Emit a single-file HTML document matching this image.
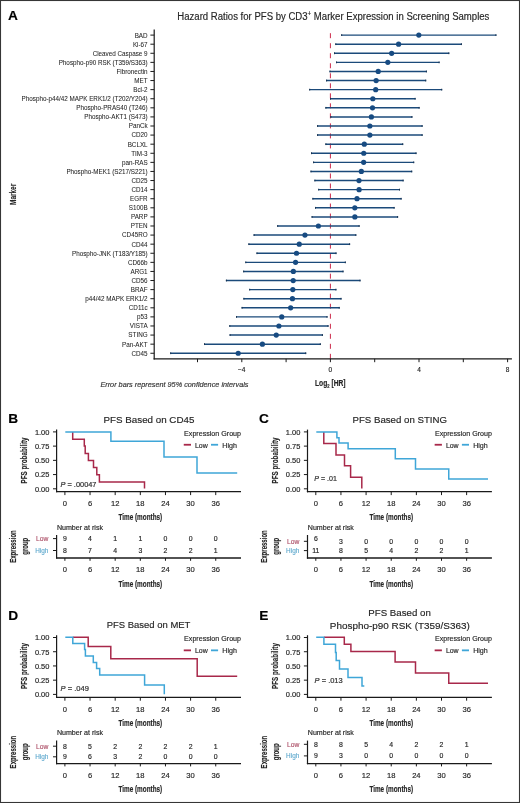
<!DOCTYPE html>
<html><head><meta charset="utf-8"><title>Figure</title>
<style>
html,body{margin:0;padding:0;background:#fff;}
body{width:520px;height:803px;overflow:hidden;}
svg{display:block;font-family:"Liberation Sans",sans-serif;will-change:transform;}
text{stroke-width:var(--sw,0.16px);stroke-linejoin:round;}
</style></head><body>
<svg width="520" height="803" viewBox="0 0 520 803">
<rect x="0" y="0" width="520" height="803" fill="#fff"/>
<text x="8" y="19.8" font-size="13.7" font-weight="bold" fill="#000" stroke="#000">A</text>
<text x="177.3" y="20.1" font-size="10" fill="#262626" stroke="#262626" textLength="312.1" lengthAdjust="spacingAndGlyphs">Hazard Ratios for PFS by CD3<tspan font-size="6.4" dy="-3.8">+</tspan><tspan dy="3.8"> Marker Expression in Screening Samples</tspan></text>
<line x1="330.4" y1="33.2" x2="330.4" y2="358.8" stroke="#cc2a4a" stroke-width="1" stroke-dasharray="5 5.02"/>
<line x1="154.2" y1="29.6" x2="154.2" y2="359.4" stroke="#1a1a1a" stroke-width="1.2"/>
<line x1="153.6" y1="358.8" x2="511.9" y2="358.8" stroke="#1a1a1a" stroke-width="1.2"/>
<text x="147.6" y="37.5" font-size="6.3" text-anchor="end" fill="#262626" stroke="#262626" style="--sw:0.05px">BAD</text>
<line x1="150.4" y1="35.1" x2="154.2" y2="35.1" stroke="#1a1a1a" stroke-width="1"/>
<line x1="341.2" y1="35.1" x2="496.4" y2="35.1" stroke="#1b4a7a" stroke-width="1.45"/>
<line x1="341.7" y1="34.2" x2="341.7" y2="36" stroke="#1a3350" stroke-width="1"/>
<line x1="495.9" y1="34.2" x2="495.9" y2="36" stroke="#1a3350" stroke-width="1"/>
<circle cx="418.8" cy="35.1" r="2.6" fill="#174b82"/>
<text x="147.6" y="46.59" font-size="6.3" text-anchor="end" fill="#262626" stroke="#262626" style="--sw:0.05px">Ki-67</text>
<line x1="150.4" y1="44.19" x2="154.2" y2="44.19" stroke="#1a1a1a" stroke-width="1"/>
<line x1="335.3" y1="44.19" x2="461.9" y2="44.19" stroke="#1b4a7a" stroke-width="1.45"/>
<line x1="335.8" y1="43.29" x2="335.8" y2="45.09" stroke="#1a3350" stroke-width="1"/>
<line x1="461.4" y1="43.29" x2="461.4" y2="45.09" stroke="#1a3350" stroke-width="1"/>
<circle cx="398.6" cy="44.19" r="2.6" fill="#174b82"/>
<text x="147.6" y="55.68" font-size="6.3" text-anchor="end" fill="#262626" stroke="#262626" style="--sw:0.05px">Cleaved Caspase 9</text>
<line x1="150.4" y1="53.28" x2="154.2" y2="53.28" stroke="#1a1a1a" stroke-width="1"/>
<line x1="334" y1="53.28" x2="449.3" y2="53.28" stroke="#1b4a7a" stroke-width="1.45"/>
<line x1="334.5" y1="52.38" x2="334.5" y2="54.18" stroke="#1a3350" stroke-width="1"/>
<line x1="448.8" y1="52.38" x2="448.8" y2="54.18" stroke="#1a3350" stroke-width="1"/>
<circle cx="391.65" cy="53.28" r="2.6" fill="#174b82"/>
<text x="147.6" y="64.77" font-size="6.3" text-anchor="end" fill="#262626" stroke="#262626" style="--sw:0.05px">Phospho-p90 RSK (T359/S363)</text>
<line x1="150.4" y1="62.37" x2="154.2" y2="62.37" stroke="#1a1a1a" stroke-width="1"/>
<line x1="336" y1="62.37" x2="439.6" y2="62.37" stroke="#1b4a7a" stroke-width="1.45"/>
<line x1="336.5" y1="61.47" x2="336.5" y2="63.27" stroke="#1a3350" stroke-width="1"/>
<line x1="439.1" y1="61.47" x2="439.1" y2="63.27" stroke="#1a3350" stroke-width="1"/>
<circle cx="387.8" cy="62.37" r="2.6" fill="#174b82"/>
<text x="147.6" y="73.86" font-size="6.3" text-anchor="end" fill="#262626" stroke="#262626" style="--sw:0.05px">Fibronectin</text>
<line x1="150.4" y1="71.46" x2="154.2" y2="71.46" stroke="#1a1a1a" stroke-width="1"/>
<line x1="329.5" y1="71.46" x2="426.9" y2="71.46" stroke="#1b4a7a" stroke-width="1.45"/>
<line x1="330" y1="70.56" x2="330" y2="72.36" stroke="#1a3350" stroke-width="1"/>
<line x1="426.4" y1="70.56" x2="426.4" y2="72.36" stroke="#1a3350" stroke-width="1"/>
<circle cx="378.2" cy="71.46" r="2.6" fill="#174b82"/>
<text x="147.6" y="82.95" font-size="6.3" text-anchor="end" fill="#262626" stroke="#262626" style="--sw:0.05px">MET</text>
<line x1="150.4" y1="80.55" x2="154.2" y2="80.55" stroke="#1a1a1a" stroke-width="1"/>
<line x1="326.1" y1="80.55" x2="426.2" y2="80.55" stroke="#1b4a7a" stroke-width="1.45"/>
<line x1="326.6" y1="79.65" x2="326.6" y2="81.45" stroke="#1a3350" stroke-width="1"/>
<line x1="425.7" y1="79.65" x2="425.7" y2="81.45" stroke="#1a3350" stroke-width="1"/>
<circle cx="376.15" cy="80.55" r="2.6" fill="#174b82"/>
<text x="147.6" y="92.04" font-size="6.3" text-anchor="end" fill="#262626" stroke="#262626" style="--sw:0.05px">Bcl-2</text>
<line x1="150.4" y1="89.64" x2="154.2" y2="89.64" stroke="#1a1a1a" stroke-width="1"/>
<line x1="309.2" y1="89.64" x2="442.2" y2="89.64" stroke="#1b4a7a" stroke-width="1.45"/>
<line x1="309.7" y1="88.74" x2="309.7" y2="90.54" stroke="#1a3350" stroke-width="1"/>
<line x1="441.7" y1="88.74" x2="441.7" y2="90.54" stroke="#1a3350" stroke-width="1"/>
<circle cx="375.7" cy="89.64" r="2.6" fill="#174b82"/>
<text x="147.6" y="101.13" font-size="6.3" text-anchor="end" fill="#262626" stroke="#262626" style="--sw:0.05px">Phospho-p44/42 MAPK ERK1/2 (T202/Y204)</text>
<line x1="150.4" y1="98.73" x2="154.2" y2="98.73" stroke="#1a1a1a" stroke-width="1"/>
<line x1="330" y1="98.73" x2="415.6" y2="98.73" stroke="#1b4a7a" stroke-width="1.45"/>
<line x1="330.5" y1="97.83" x2="330.5" y2="99.63" stroke="#1a3350" stroke-width="1"/>
<line x1="415.1" y1="97.83" x2="415.1" y2="99.63" stroke="#1a3350" stroke-width="1"/>
<circle cx="372.8" cy="98.73" r="2.6" fill="#174b82"/>
<text x="147.6" y="110.22" font-size="6.3" text-anchor="end" fill="#262626" stroke="#262626" style="--sw:0.05px">Phospho-PRAS40 (T246)</text>
<line x1="150.4" y1="107.82" x2="154.2" y2="107.82" stroke="#1a1a1a" stroke-width="1"/>
<line x1="325.4" y1="107.82" x2="419.6" y2="107.82" stroke="#1b4a7a" stroke-width="1.45"/>
<line x1="325.9" y1="106.92" x2="325.9" y2="108.72" stroke="#1a3350" stroke-width="1"/>
<line x1="419.1" y1="106.92" x2="419.1" y2="108.72" stroke="#1a3350" stroke-width="1"/>
<circle cx="372.5" cy="107.82" r="2.6" fill="#174b82"/>
<text x="147.6" y="119.31" font-size="6.3" text-anchor="end" fill="#262626" stroke="#262626" style="--sw:0.05px">Phospho-AKT1 (S473)</text>
<line x1="150.4" y1="116.91" x2="154.2" y2="116.91" stroke="#1a1a1a" stroke-width="1"/>
<line x1="330.4" y1="116.91" x2="412.4" y2="116.91" stroke="#1b4a7a" stroke-width="1.45"/>
<line x1="330.9" y1="116.01" x2="330.9" y2="117.81" stroke="#1a3350" stroke-width="1"/>
<line x1="411.9" y1="116.01" x2="411.9" y2="117.81" stroke="#1a3350" stroke-width="1"/>
<circle cx="371.4" cy="116.91" r="2.6" fill="#174b82"/>
<text x="147.6" y="128.4" font-size="6.3" text-anchor="end" fill="#262626" stroke="#262626" style="--sw:0.05px">PanCk</text>
<line x1="150.4" y1="126" x2="154.2" y2="126" stroke="#1a1a1a" stroke-width="1"/>
<line x1="317.1" y1="126" x2="422.6" y2="126" stroke="#1b4a7a" stroke-width="1.45"/>
<line x1="317.6" y1="125.1" x2="317.6" y2="126.9" stroke="#1a3350" stroke-width="1"/>
<line x1="422.1" y1="125.1" x2="422.1" y2="126.9" stroke="#1a3350" stroke-width="1"/>
<circle cx="369.85" cy="126" r="2.6" fill="#174b82"/>
<text x="147.6" y="137.49" font-size="6.3" text-anchor="end" fill="#262626" stroke="#262626" style="--sw:0.05px">CD20</text>
<line x1="150.4" y1="135.09" x2="154.2" y2="135.09" stroke="#1a1a1a" stroke-width="1"/>
<line x1="317.1" y1="135.09" x2="422.6" y2="135.09" stroke="#1b4a7a" stroke-width="1.45"/>
<line x1="317.6" y1="134.19" x2="317.6" y2="135.99" stroke="#1a3350" stroke-width="1"/>
<line x1="422.1" y1="134.19" x2="422.1" y2="135.99" stroke="#1a3350" stroke-width="1"/>
<circle cx="369.85" cy="135.09" r="2.6" fill="#174b82"/>
<text x="147.6" y="146.58" font-size="6.3" text-anchor="end" fill="#262626" stroke="#262626" style="--sw:0.05px">BCLXL</text>
<line x1="150.4" y1="144.18" x2="154.2" y2="144.18" stroke="#1a1a1a" stroke-width="1"/>
<line x1="325.4" y1="144.18" x2="403.2" y2="144.18" stroke="#1b4a7a" stroke-width="1.45"/>
<line x1="325.9" y1="143.28" x2="325.9" y2="145.08" stroke="#1a3350" stroke-width="1"/>
<line x1="402.7" y1="143.28" x2="402.7" y2="145.08" stroke="#1a3350" stroke-width="1"/>
<circle cx="364.3" cy="144.18" r="2.6" fill="#174b82"/>
<text x="147.6" y="155.67" font-size="6.3" text-anchor="end" fill="#262626" stroke="#262626" style="--sw:0.05px">TIM-3</text>
<line x1="150.4" y1="153.27" x2="154.2" y2="153.27" stroke="#1a1a1a" stroke-width="1"/>
<line x1="311" y1="153.27" x2="416.5" y2="153.27" stroke="#1b4a7a" stroke-width="1.45"/>
<line x1="311.5" y1="152.37" x2="311.5" y2="154.17" stroke="#1a3350" stroke-width="1"/>
<line x1="416" y1="152.37" x2="416" y2="154.17" stroke="#1a3350" stroke-width="1"/>
<circle cx="363.75" cy="153.27" r="2.6" fill="#174b82"/>
<text x="147.6" y="164.76" font-size="6.3" text-anchor="end" fill="#262626" stroke="#262626" style="--sw:0.05px">pan-RAS</text>
<line x1="150.4" y1="162.36" x2="154.2" y2="162.36" stroke="#1a1a1a" stroke-width="1"/>
<line x1="313.1" y1="162.36" x2="414.2" y2="162.36" stroke="#1b4a7a" stroke-width="1.45"/>
<line x1="313.6" y1="161.46" x2="313.6" y2="163.26" stroke="#1a3350" stroke-width="1"/>
<line x1="413.7" y1="161.46" x2="413.7" y2="163.26" stroke="#1a3350" stroke-width="1"/>
<circle cx="363.65" cy="162.36" r="2.6" fill="#174b82"/>
<text x="147.6" y="173.85" font-size="6.3" text-anchor="end" fill="#262626" stroke="#262626" style="--sw:0.05px">Phospho-MEK1 (S217/S221)</text>
<line x1="150.4" y1="171.45" x2="154.2" y2="171.45" stroke="#1a1a1a" stroke-width="1"/>
<line x1="310.5" y1="171.45" x2="412.2" y2="171.45" stroke="#1b4a7a" stroke-width="1.45"/>
<line x1="311" y1="170.55" x2="311" y2="172.35" stroke="#1a3350" stroke-width="1"/>
<line x1="411.7" y1="170.55" x2="411.7" y2="172.35" stroke="#1a3350" stroke-width="1"/>
<circle cx="361.35" cy="171.45" r="2.6" fill="#174b82"/>
<text x="147.6" y="182.94" font-size="6.3" text-anchor="end" fill="#262626" stroke="#262626" style="--sw:0.05px">CD25</text>
<line x1="150.4" y1="180.54" x2="154.2" y2="180.54" stroke="#1a1a1a" stroke-width="1"/>
<line x1="314.4" y1="180.54" x2="403.6" y2="180.54" stroke="#1b4a7a" stroke-width="1.45"/>
<line x1="314.9" y1="179.64" x2="314.9" y2="181.44" stroke="#1a3350" stroke-width="1"/>
<line x1="403.1" y1="179.64" x2="403.1" y2="181.44" stroke="#1a3350" stroke-width="1"/>
<circle cx="359" cy="180.54" r="2.6" fill="#174b82"/>
<text x="147.6" y="192.03" font-size="6.3" text-anchor="end" fill="#262626" stroke="#262626" style="--sw:0.05px">CD14</text>
<line x1="150.4" y1="189.63" x2="154.2" y2="189.63" stroke="#1a1a1a" stroke-width="1"/>
<line x1="318.2" y1="189.63" x2="400" y2="189.63" stroke="#1b4a7a" stroke-width="1.45"/>
<line x1="318.7" y1="188.73" x2="318.7" y2="190.53" stroke="#1a3350" stroke-width="1"/>
<line x1="399.5" y1="188.73" x2="399.5" y2="190.53" stroke="#1a3350" stroke-width="1"/>
<circle cx="359.1" cy="189.63" r="2.6" fill="#174b82"/>
<text x="147.6" y="201.12" font-size="6.3" text-anchor="end" fill="#262626" stroke="#262626" style="--sw:0.05px">EGFR</text>
<line x1="150.4" y1="198.72" x2="154.2" y2="198.72" stroke="#1a1a1a" stroke-width="1"/>
<line x1="312.4" y1="198.72" x2="401.6" y2="198.72" stroke="#1b4a7a" stroke-width="1.45"/>
<line x1="312.9" y1="197.82" x2="312.9" y2="199.62" stroke="#1a3350" stroke-width="1"/>
<line x1="401.1" y1="197.82" x2="401.1" y2="199.62" stroke="#1a3350" stroke-width="1"/>
<circle cx="357" cy="198.72" r="2.6" fill="#174b82"/>
<text x="147.6" y="210.21" font-size="6.3" text-anchor="end" fill="#262626" stroke="#262626" style="--sw:0.05px">S100B</text>
<line x1="150.4" y1="207.81" x2="154.2" y2="207.81" stroke="#1a1a1a" stroke-width="1"/>
<line x1="315" y1="207.81" x2="394.6" y2="207.81" stroke="#1b4a7a" stroke-width="1.45"/>
<line x1="315.5" y1="206.91" x2="315.5" y2="208.71" stroke="#1a3350" stroke-width="1"/>
<line x1="394.1" y1="206.91" x2="394.1" y2="208.71" stroke="#1a3350" stroke-width="1"/>
<circle cx="354.8" cy="207.81" r="2.6" fill="#174b82"/>
<text x="147.6" y="219.3" font-size="6.3" text-anchor="end" fill="#262626" stroke="#262626" style="--sw:0.05px">PARP</text>
<line x1="150.4" y1="216.9" x2="154.2" y2="216.9" stroke="#1a1a1a" stroke-width="1"/>
<line x1="311.6" y1="216.9" x2="398.1" y2="216.9" stroke="#1b4a7a" stroke-width="1.45"/>
<line x1="312.1" y1="216" x2="312.1" y2="217.8" stroke="#1a3350" stroke-width="1"/>
<line x1="397.6" y1="216" x2="397.6" y2="217.8" stroke="#1a3350" stroke-width="1"/>
<circle cx="354.85" cy="216.9" r="2.6" fill="#174b82"/>
<text x="147.6" y="228.39" font-size="6.3" text-anchor="end" fill="#262626" stroke="#262626" style="--sw:0.05px">PTEN</text>
<line x1="150.4" y1="225.99" x2="154.2" y2="225.99" stroke="#1a1a1a" stroke-width="1"/>
<line x1="277.2" y1="225.99" x2="359.6" y2="225.99" stroke="#1b4a7a" stroke-width="1.45"/>
<line x1="277.7" y1="225.09" x2="277.7" y2="226.89" stroke="#1a3350" stroke-width="1"/>
<line x1="359.1" y1="225.09" x2="359.1" y2="226.89" stroke="#1a3350" stroke-width="1"/>
<circle cx="318.4" cy="225.99" r="2.6" fill="#174b82"/>
<text x="147.6" y="237.48" font-size="6.3" text-anchor="end" fill="#262626" stroke="#262626" style="--sw:0.05px">CD45RO</text>
<line x1="150.4" y1="235.08" x2="154.2" y2="235.08" stroke="#1a1a1a" stroke-width="1"/>
<line x1="253.6" y1="235.08" x2="356.3" y2="235.08" stroke="#1b4a7a" stroke-width="1.45"/>
<line x1="254.1" y1="234.18" x2="254.1" y2="235.98" stroke="#1a3350" stroke-width="1"/>
<line x1="355.8" y1="234.18" x2="355.8" y2="235.98" stroke="#1a3350" stroke-width="1"/>
<circle cx="304.95" cy="235.08" r="2.6" fill="#174b82"/>
<text x="147.6" y="246.57" font-size="6.3" text-anchor="end" fill="#262626" stroke="#262626" style="--sw:0.05px">CD44</text>
<line x1="150.4" y1="244.17" x2="154.2" y2="244.17" stroke="#1a1a1a" stroke-width="1"/>
<line x1="248.4" y1="244.17" x2="350.1" y2="244.17" stroke="#1b4a7a" stroke-width="1.45"/>
<line x1="248.9" y1="243.27" x2="248.9" y2="245.07" stroke="#1a3350" stroke-width="1"/>
<line x1="349.6" y1="243.27" x2="349.6" y2="245.07" stroke="#1a3350" stroke-width="1"/>
<circle cx="299.25" cy="244.17" r="2.6" fill="#174b82"/>
<text x="147.6" y="255.66" font-size="6.3" text-anchor="end" fill="#262626" stroke="#262626" style="--sw:0.05px">Phospho-JNK (T183/Y185)</text>
<line x1="150.4" y1="253.26" x2="154.2" y2="253.26" stroke="#1a1a1a" stroke-width="1"/>
<line x1="256.5" y1="253.26" x2="336.5" y2="253.26" stroke="#1b4a7a" stroke-width="1.45"/>
<line x1="257" y1="252.36" x2="257" y2="254.16" stroke="#1a3350" stroke-width="1"/>
<line x1="336" y1="252.36" x2="336" y2="254.16" stroke="#1a3350" stroke-width="1"/>
<circle cx="296.5" cy="253.26" r="2.6" fill="#174b82"/>
<text x="147.6" y="264.75" font-size="6.3" text-anchor="end" fill="#262626" stroke="#262626" style="--sw:0.05px">CD66b</text>
<line x1="150.4" y1="262.35" x2="154.2" y2="262.35" stroke="#1a1a1a" stroke-width="1"/>
<line x1="245.3" y1="262.35" x2="345.8" y2="262.35" stroke="#1b4a7a" stroke-width="1.45"/>
<line x1="245.8" y1="261.45" x2="245.8" y2="263.25" stroke="#1a3350" stroke-width="1"/>
<line x1="345.3" y1="261.45" x2="345.3" y2="263.25" stroke="#1a3350" stroke-width="1"/>
<circle cx="295.55" cy="262.35" r="2.6" fill="#174b82"/>
<text x="147.6" y="273.84" font-size="6.3" text-anchor="end" fill="#262626" stroke="#262626" style="--sw:0.05px">ARG1</text>
<line x1="150.4" y1="271.44" x2="154.2" y2="271.44" stroke="#1a1a1a" stroke-width="1"/>
<line x1="243.2" y1="271.44" x2="343.5" y2="271.44" stroke="#1b4a7a" stroke-width="1.45"/>
<line x1="243.7" y1="270.54" x2="243.7" y2="272.34" stroke="#1a3350" stroke-width="1"/>
<line x1="343" y1="270.54" x2="343" y2="272.34" stroke="#1a3350" stroke-width="1"/>
<circle cx="293.35" cy="271.44" r="2.6" fill="#174b82"/>
<text x="147.6" y="282.93" font-size="6.3" text-anchor="end" fill="#262626" stroke="#262626" style="--sw:0.05px">CD56</text>
<line x1="150.4" y1="280.53" x2="154.2" y2="280.53" stroke="#1a1a1a" stroke-width="1"/>
<line x1="225.9" y1="280.53" x2="360.5" y2="280.53" stroke="#1b4a7a" stroke-width="1.45"/>
<line x1="226.4" y1="279.63" x2="226.4" y2="281.43" stroke="#1a3350" stroke-width="1"/>
<line x1="360" y1="279.63" x2="360" y2="281.43" stroke="#1a3350" stroke-width="1"/>
<circle cx="293.2" cy="280.53" r="2.6" fill="#174b82"/>
<text x="147.6" y="292.02" font-size="6.3" text-anchor="end" fill="#262626" stroke="#262626" style="--sw:0.05px">BRAF</text>
<line x1="150.4" y1="289.62" x2="154.2" y2="289.62" stroke="#1a1a1a" stroke-width="1"/>
<line x1="249.2" y1="289.62" x2="336.4" y2="289.62" stroke="#1b4a7a" stroke-width="1.45"/>
<line x1="249.7" y1="288.72" x2="249.7" y2="290.52" stroke="#1a3350" stroke-width="1"/>
<line x1="335.9" y1="288.72" x2="335.9" y2="290.52" stroke="#1a3350" stroke-width="1"/>
<circle cx="292.8" cy="289.62" r="2.6" fill="#174b82"/>
<text x="147.6" y="301.11" font-size="6.3" text-anchor="end" fill="#262626" stroke="#262626" style="--sw:0.05px">p44/42 MAPK ERK1/2</text>
<line x1="150.4" y1="298.71" x2="154.2" y2="298.71" stroke="#1a1a1a" stroke-width="1"/>
<line x1="243.4" y1="298.71" x2="341.5" y2="298.71" stroke="#1b4a7a" stroke-width="1.45"/>
<line x1="243.9" y1="297.81" x2="243.9" y2="299.61" stroke="#1a3350" stroke-width="1"/>
<line x1="341" y1="297.81" x2="341" y2="299.61" stroke="#1a3350" stroke-width="1"/>
<circle cx="292.45" cy="298.71" r="2.6" fill="#174b82"/>
<text x="147.6" y="310.2" font-size="6.3" text-anchor="end" fill="#262626" stroke="#262626" style="--sw:0.05px">CD11c</text>
<line x1="150.4" y1="307.8" x2="154.2" y2="307.8" stroke="#1a1a1a" stroke-width="1"/>
<line x1="241.6" y1="307.8" x2="339.7" y2="307.8" stroke="#1b4a7a" stroke-width="1.45"/>
<line x1="242.1" y1="306.9" x2="242.1" y2="308.7" stroke="#1a3350" stroke-width="1"/>
<line x1="339.2" y1="306.9" x2="339.2" y2="308.7" stroke="#1a3350" stroke-width="1"/>
<circle cx="290.65" cy="307.8" r="2.6" fill="#174b82"/>
<text x="147.6" y="319.29" font-size="6.3" text-anchor="end" fill="#262626" stroke="#262626" style="--sw:0.05px">p53</text>
<line x1="150.4" y1="316.89" x2="154.2" y2="316.89" stroke="#1a1a1a" stroke-width="1"/>
<line x1="236" y1="316.89" x2="327.5" y2="316.89" stroke="#1b4a7a" stroke-width="1.45"/>
<line x1="236.5" y1="315.99" x2="236.5" y2="317.79" stroke="#1a3350" stroke-width="1"/>
<line x1="327" y1="315.99" x2="327" y2="317.79" stroke="#1a3350" stroke-width="1"/>
<circle cx="281.75" cy="316.89" r="2.6" fill="#174b82"/>
<text x="147.6" y="328.38" font-size="6.3" text-anchor="end" fill="#262626" stroke="#262626" style="--sw:0.05px">VISTA</text>
<line x1="150.4" y1="325.98" x2="154.2" y2="325.98" stroke="#1a1a1a" stroke-width="1"/>
<line x1="229.3" y1="325.98" x2="328.5" y2="325.98" stroke="#1b4a7a" stroke-width="1.45"/>
<line x1="229.8" y1="325.08" x2="229.8" y2="326.88" stroke="#1a3350" stroke-width="1"/>
<line x1="328" y1="325.08" x2="328" y2="326.88" stroke="#1a3350" stroke-width="1"/>
<circle cx="278.9" cy="325.98" r="2.6" fill="#174b82"/>
<text x="147.6" y="337.47" font-size="6.3" text-anchor="end" fill="#262626" stroke="#262626" style="--sw:0.05px">STING</text>
<line x1="150.4" y1="335.07" x2="154.2" y2="335.07" stroke="#1a1a1a" stroke-width="1"/>
<line x1="229.6" y1="335.07" x2="322.9" y2="335.07" stroke="#1b4a7a" stroke-width="1.45"/>
<line x1="230.1" y1="334.17" x2="230.1" y2="335.97" stroke="#1a3350" stroke-width="1"/>
<line x1="322.4" y1="334.17" x2="322.4" y2="335.97" stroke="#1a3350" stroke-width="1"/>
<circle cx="276.25" cy="335.07" r="2.6" fill="#174b82"/>
<text x="147.6" y="346.56" font-size="6.3" text-anchor="end" fill="#262626" stroke="#262626" style="--sw:0.05px">Pan-AKT</text>
<line x1="150.4" y1="344.16" x2="154.2" y2="344.16" stroke="#1a1a1a" stroke-width="1"/>
<line x1="204" y1="344.16" x2="320.8" y2="344.16" stroke="#1b4a7a" stroke-width="1.45"/>
<line x1="204.5" y1="343.26" x2="204.5" y2="345.06" stroke="#1a3350" stroke-width="1"/>
<line x1="320.3" y1="343.26" x2="320.3" y2="345.06" stroke="#1a3350" stroke-width="1"/>
<circle cx="262.4" cy="344.16" r="2.6" fill="#174b82"/>
<text x="147.6" y="355.65" font-size="6.3" text-anchor="end" fill="#262626" stroke="#262626" style="--sw:0.05px">CD45</text>
<line x1="150.4" y1="353.25" x2="154.2" y2="353.25" stroke="#1a1a1a" stroke-width="1"/>
<line x1="170.2" y1="353.25" x2="306.2" y2="353.25" stroke="#1b4a7a" stroke-width="1.45"/>
<line x1="170.7" y1="352.35" x2="170.7" y2="354.15" stroke="#1a3350" stroke-width="1"/>
<line x1="305.7" y1="352.35" x2="305.7" y2="354.15" stroke="#1a3350" stroke-width="1"/>
<circle cx="238.2" cy="353.25" r="2.6" fill="#174b82"/>
<line x1="197.5" y1="358.8" x2="197.5" y2="362.2" stroke="#1a1a1a" stroke-width="1"/>
<line x1="241.8" y1="358.8" x2="241.8" y2="362.2" stroke="#1a1a1a" stroke-width="1"/>
<line x1="286.1" y1="358.8" x2="286.1" y2="362.2" stroke="#1a1a1a" stroke-width="1"/>
<line x1="330.4" y1="358.8" x2="330.4" y2="362.2" stroke="#1a1a1a" stroke-width="1"/>
<line x1="374.7" y1="358.8" x2="374.7" y2="362.2" stroke="#1a1a1a" stroke-width="1"/>
<line x1="419" y1="358.8" x2="419" y2="362.2" stroke="#1a1a1a" stroke-width="1"/>
<line x1="463.3" y1="358.8" x2="463.3" y2="362.2" stroke="#1a1a1a" stroke-width="1"/>
<line x1="507.6" y1="358.8" x2="507.6" y2="362.2" stroke="#1a1a1a" stroke-width="1"/>
<text x="241.8" y="372.3" font-size="6.5" text-anchor="middle" fill="#262626" stroke="#262626">&#8722;4</text>
<text x="330.4" y="372.3" font-size="6.5" text-anchor="middle" fill="#262626" stroke="#262626">0</text>
<text x="419" y="372.3" font-size="6.5" text-anchor="middle" fill="#262626" stroke="#262626">4</text>
<text x="507.6" y="372.3" font-size="6.5" text-anchor="middle" fill="#262626" stroke="#262626">8</text>
<text x="315" y="386.1" font-size="9.2" font-weight="bold" fill="#262626" stroke="#262626" textLength="30.6" lengthAdjust="spacingAndGlyphs">Log<tspan font-size="5.6" dy="1.6">2</tspan><tspan dy="-1.6"> [HR]</tspan></text>
<text x="100.4" y="386.5" font-size="7.7" font-style="italic" fill="#333" stroke="#333" textLength="148.1" lengthAdjust="spacingAndGlyphs">Error bars represent 95% confidence intervals</text>
<text transform="translate(15.9,194.35) rotate(-90)" x="0" y="0" font-size="9.7" text-anchor="middle" font-weight="bold" fill="#262626" stroke="#262626" textLength="21.1" lengthAdjust="spacingAndGlyphs">Marker</text>
<text x="8.3" y="422.8" font-size="13.7" font-weight="bold" fill="#000" stroke="#000">B</text>
<text x="103.5" y="423.1" font-size="9.6" fill="#262626" stroke="#262626" textLength="90.9" lengthAdjust="spacingAndGlyphs">PFS Based on CD45</text>
<line x1="56.6" y1="429.6" x2="56.6" y2="492.3" stroke="#1a1a1a" stroke-width="1.2"/>
<line x1="56" y1="491.7" x2="241" y2="491.7" stroke="#1a1a1a" stroke-width="1.3"/>
<line x1="53" y1="431.9" x2="56.6" y2="431.9" stroke="#1a1a1a" stroke-width="1"/>
<text x="49.4" y="434.7" font-size="7" text-anchor="end" fill="#262626" stroke="#262626" textLength="14.5" lengthAdjust="spacingAndGlyphs">1.00</text>
<line x1="53" y1="446.12" x2="56.6" y2="446.12" stroke="#1a1a1a" stroke-width="1"/>
<text x="49.4" y="448.93" font-size="7" text-anchor="end" fill="#262626" stroke="#262626" textLength="14.5" lengthAdjust="spacingAndGlyphs">0.75</text>
<line x1="53" y1="460.35" x2="56.6" y2="460.35" stroke="#1a1a1a" stroke-width="1"/>
<text x="49.4" y="463.15" font-size="7" text-anchor="end" fill="#262626" stroke="#262626" textLength="14.5" lengthAdjust="spacingAndGlyphs">0.50</text>
<line x1="53" y1="474.57" x2="56.6" y2="474.57" stroke="#1a1a1a" stroke-width="1"/>
<text x="49.4" y="477.38" font-size="7" text-anchor="end" fill="#262626" stroke="#262626" textLength="14.5" lengthAdjust="spacingAndGlyphs">0.25</text>
<line x1="53" y1="488.8" x2="56.6" y2="488.8" stroke="#1a1a1a" stroke-width="1"/>
<text x="49.4" y="491.6" font-size="7" text-anchor="end" fill="#262626" stroke="#262626" textLength="14.5" lengthAdjust="spacingAndGlyphs">0.00</text>
<line x1="64.9" y1="491.7" x2="64.9" y2="495.1" stroke="#1a1a1a" stroke-width="1"/>
<text x="64.9" y="505.9" font-size="7.6" text-anchor="middle" fill="#262626" stroke="#262626">0</text>
<line x1="90.04" y1="491.7" x2="90.04" y2="495.1" stroke="#1a1a1a" stroke-width="1"/>
<text x="90.04" y="505.9" font-size="7.6" text-anchor="middle" fill="#262626" stroke="#262626">6</text>
<line x1="115.18" y1="491.7" x2="115.18" y2="495.1" stroke="#1a1a1a" stroke-width="1"/>
<text x="115.18" y="505.9" font-size="7.6" text-anchor="middle" fill="#262626" stroke="#262626">12</text>
<line x1="140.32" y1="491.7" x2="140.32" y2="495.1" stroke="#1a1a1a" stroke-width="1"/>
<text x="140.32" y="505.9" font-size="7.6" text-anchor="middle" fill="#262626" stroke="#262626">18</text>
<line x1="165.46" y1="491.7" x2="165.46" y2="495.1" stroke="#1a1a1a" stroke-width="1"/>
<text x="165.46" y="505.9" font-size="7.6" text-anchor="middle" fill="#262626" stroke="#262626">24</text>
<line x1="190.6" y1="491.7" x2="190.6" y2="495.1" stroke="#1a1a1a" stroke-width="1"/>
<text x="190.6" y="505.9" font-size="7.6" text-anchor="middle" fill="#262626" stroke="#262626">30</text>
<line x1="215.74" y1="491.7" x2="215.74" y2="495.1" stroke="#1a1a1a" stroke-width="1"/>
<text x="215.74" y="505.9" font-size="7.6" text-anchor="middle" fill="#262626" stroke="#262626">36</text>
<text x="118.5" y="520.3" font-size="9.6" font-weight="bold" fill="#262626" stroke="#262626" textLength="43.7" lengthAdjust="spacingAndGlyphs">Time (months)</text>
<text transform="translate(27.3,460.45) rotate(-90)" x="0" y="0" font-size="8.7" text-anchor="middle" font-weight="bold" fill="#262626" stroke="#262626" textLength="45.9" lengthAdjust="spacingAndGlyphs">PFS probability</text>
<path d="M72.7,431.9 V439.2 H84.3 V446 H85.2 V453.4 H88.4 V460.6 H93.5 V467.6 H96.8 V474.8 H99.4 V482 H144.5 V488.6" fill="none" stroke="#a8284a" stroke-width="1.5" stroke-linejoin="miter" stroke-linecap="butt"/>
<path d="M65.3,431.9 H110.9 V441.3 H164 V457.1 H197 V473.1 H237.2" fill="none" stroke="#3fa6d8" stroke-width="1.5" stroke-linejoin="miter" stroke-linecap="butt"/>
<text x="60.5" y="486.5" font-size="7.8" fill="#333" stroke="#333" style="--sw:0.22px" textLength="36" lengthAdjust="spacingAndGlyphs"><tspan font-style="italic">P</tspan> = .00047</text>
<text x="184.1" y="435.6" font-size="7.3" fill="#262626" stroke="#262626" textLength="56.9" lengthAdjust="spacingAndGlyphs">Expression Group</text>
<line x1="183.75" y1="444.75" x2="191" y2="444.75" stroke="#a8284a" stroke-width="1.8"/>
<text x="195" y="447.5" font-size="7.3" fill="#262626" stroke="#262626" textLength="12.75" lengthAdjust="spacingAndGlyphs">Low</text>
<line x1="211" y1="444.75" x2="218.1" y2="444.75" stroke="#3fa6d8" stroke-width="1.8"/>
<text x="222.25" y="447.5" font-size="7.3" fill="#262626" stroke="#262626" textLength="14.65" lengthAdjust="spacingAndGlyphs">High</text>
<text x="56.9" y="529.8" font-size="6.7" fill="#262626" stroke="#262626" textLength="46.1" lengthAdjust="spacingAndGlyphs">Number at risk</text>
<line x1="56.6" y1="535" x2="56.6" y2="558.6" stroke="#1a1a1a" stroke-width="1.2"/>
<line x1="56" y1="558" x2="241" y2="558" stroke="#1a1a1a" stroke-width="1.3"/>
<line x1="53" y1="538.6" x2="56.6" y2="538.6" stroke="#1a1a1a" stroke-width="1"/>
<line x1="53" y1="550.5" x2="56.6" y2="550.5" stroke="#1a1a1a" stroke-width="1"/>
<text x="48.4" y="540.95" font-size="6.8" text-anchor="end" fill="#a8465f" stroke="#a8465f" textLength="12.4" lengthAdjust="spacingAndGlyphs" style="--sw:0.1px">Low</text>
<text x="48.4" y="552.65" font-size="6.8" text-anchor="end" fill="#5aa6cc" stroke="#5aa6cc" textLength="13.2" lengthAdjust="spacingAndGlyphs" style="--sw:0.1px">High</text>
<text x="64.9" y="541" font-size="6.9" text-anchor="middle" fill="#262626" stroke="#262626">9</text>
<text x="64.9" y="552.9" font-size="6.9" text-anchor="middle" fill="#262626" stroke="#262626">8</text>
<text x="90.04" y="541" font-size="6.9" text-anchor="middle" fill="#262626" stroke="#262626">4</text>
<text x="90.04" y="552.9" font-size="6.9" text-anchor="middle" fill="#262626" stroke="#262626">7</text>
<text x="115.18" y="541" font-size="6.9" text-anchor="middle" fill="#262626" stroke="#262626">1</text>
<text x="115.18" y="552.9" font-size="6.9" text-anchor="middle" fill="#262626" stroke="#262626">4</text>
<text x="140.32" y="541" font-size="6.9" text-anchor="middle" fill="#262626" stroke="#262626">1</text>
<text x="140.32" y="552.9" font-size="6.9" text-anchor="middle" fill="#262626" stroke="#262626">3</text>
<text x="165.46" y="541" font-size="6.9" text-anchor="middle" fill="#262626" stroke="#262626">0</text>
<text x="165.46" y="552.9" font-size="6.9" text-anchor="middle" fill="#262626" stroke="#262626">2</text>
<text x="190.6" y="541" font-size="6.9" text-anchor="middle" fill="#262626" stroke="#262626">0</text>
<text x="190.6" y="552.9" font-size="6.9" text-anchor="middle" fill="#262626" stroke="#262626">2</text>
<text x="215.74" y="541" font-size="6.9" text-anchor="middle" fill="#262626" stroke="#262626">0</text>
<text x="215.74" y="552.9" font-size="6.9" text-anchor="middle" fill="#262626" stroke="#262626">1</text>
<line x1="64.9" y1="558" x2="64.9" y2="560.8" stroke="#1a1a1a" stroke-width="1"/>
<text x="64.9" y="572.1" font-size="7.6" text-anchor="middle" fill="#262626" stroke="#262626">0</text>
<line x1="90.04" y1="558" x2="90.04" y2="560.8" stroke="#1a1a1a" stroke-width="1"/>
<text x="90.04" y="572.1" font-size="7.6" text-anchor="middle" fill="#262626" stroke="#262626">6</text>
<line x1="115.18" y1="558" x2="115.18" y2="560.8" stroke="#1a1a1a" stroke-width="1"/>
<text x="115.18" y="572.1" font-size="7.6" text-anchor="middle" fill="#262626" stroke="#262626">12</text>
<line x1="140.32" y1="558" x2="140.32" y2="560.8" stroke="#1a1a1a" stroke-width="1"/>
<text x="140.32" y="572.1" font-size="7.6" text-anchor="middle" fill="#262626" stroke="#262626">18</text>
<line x1="165.46" y1="558" x2="165.46" y2="560.8" stroke="#1a1a1a" stroke-width="1"/>
<text x="165.46" y="572.1" font-size="7.6" text-anchor="middle" fill="#262626" stroke="#262626">24</text>
<line x1="190.6" y1="558" x2="190.6" y2="560.8" stroke="#1a1a1a" stroke-width="1"/>
<text x="190.6" y="572.1" font-size="7.6" text-anchor="middle" fill="#262626" stroke="#262626">30</text>
<line x1="215.74" y1="558" x2="215.74" y2="560.8" stroke="#1a1a1a" stroke-width="1"/>
<text x="215.74" y="572.1" font-size="7.6" text-anchor="middle" fill="#262626" stroke="#262626">36</text>
<text x="118.5" y="586.7" font-size="9.6" font-weight="bold" fill="#262626" stroke="#262626" textLength="43.7" lengthAdjust="spacingAndGlyphs">Time (months)</text>
<text transform="translate(16.1,546.5) rotate(-90)" x="0" y="0" font-size="9.6" text-anchor="middle" font-weight="bold" fill="#262626" stroke="#262626" textLength="32.6" lengthAdjust="spacingAndGlyphs">Expression</text>
<text transform="translate(28.3,546.2) rotate(-90)" x="0" y="0" font-size="9.6" text-anchor="middle" font-weight="bold" fill="#262626" stroke="#262626" textLength="16.9" lengthAdjust="spacingAndGlyphs">group</text>
<text x="258.9" y="422.9" font-size="13.7" font-weight="bold" fill="#000" stroke="#000">C</text>
<text x="352.5" y="423.1" font-size="9.6" fill="#262626" stroke="#262626" textLength="94.5" lengthAdjust="spacingAndGlyphs">PFS Based on STING</text>
<line x1="307.5" y1="429.6" x2="307.5" y2="492.3" stroke="#1a1a1a" stroke-width="1.2"/>
<line x1="306.9" y1="491.7" x2="491.9" y2="491.7" stroke="#1a1a1a" stroke-width="1.3"/>
<line x1="303.9" y1="431.9" x2="307.5" y2="431.9" stroke="#1a1a1a" stroke-width="1"/>
<text x="300.3" y="434.7" font-size="7" text-anchor="end" fill="#262626" stroke="#262626" textLength="14.5" lengthAdjust="spacingAndGlyphs">1.00</text>
<line x1="303.9" y1="446.12" x2="307.5" y2="446.12" stroke="#1a1a1a" stroke-width="1"/>
<text x="300.3" y="448.93" font-size="7" text-anchor="end" fill="#262626" stroke="#262626" textLength="14.5" lengthAdjust="spacingAndGlyphs">0.75</text>
<line x1="303.9" y1="460.35" x2="307.5" y2="460.35" stroke="#1a1a1a" stroke-width="1"/>
<text x="300.3" y="463.15" font-size="7" text-anchor="end" fill="#262626" stroke="#262626" textLength="14.5" lengthAdjust="spacingAndGlyphs">0.50</text>
<line x1="303.9" y1="474.57" x2="307.5" y2="474.57" stroke="#1a1a1a" stroke-width="1"/>
<text x="300.3" y="477.38" font-size="7" text-anchor="end" fill="#262626" stroke="#262626" textLength="14.5" lengthAdjust="spacingAndGlyphs">0.25</text>
<line x1="303.9" y1="488.8" x2="307.5" y2="488.8" stroke="#1a1a1a" stroke-width="1"/>
<text x="300.3" y="491.6" font-size="7" text-anchor="end" fill="#262626" stroke="#262626" textLength="14.5" lengthAdjust="spacingAndGlyphs">0.00</text>
<line x1="315.8" y1="491.7" x2="315.8" y2="495.1" stroke="#1a1a1a" stroke-width="1"/>
<text x="315.8" y="505.9" font-size="7.6" text-anchor="middle" fill="#262626" stroke="#262626">0</text>
<line x1="340.94" y1="491.7" x2="340.94" y2="495.1" stroke="#1a1a1a" stroke-width="1"/>
<text x="340.94" y="505.9" font-size="7.6" text-anchor="middle" fill="#262626" stroke="#262626">6</text>
<line x1="366.08" y1="491.7" x2="366.08" y2="495.1" stroke="#1a1a1a" stroke-width="1"/>
<text x="366.08" y="505.9" font-size="7.6" text-anchor="middle" fill="#262626" stroke="#262626">12</text>
<line x1="391.22" y1="491.7" x2="391.22" y2="495.1" stroke="#1a1a1a" stroke-width="1"/>
<text x="391.22" y="505.9" font-size="7.6" text-anchor="middle" fill="#262626" stroke="#262626">18</text>
<line x1="416.36" y1="491.7" x2="416.36" y2="495.1" stroke="#1a1a1a" stroke-width="1"/>
<text x="416.36" y="505.9" font-size="7.6" text-anchor="middle" fill="#262626" stroke="#262626">24</text>
<line x1="441.5" y1="491.7" x2="441.5" y2="495.1" stroke="#1a1a1a" stroke-width="1"/>
<text x="441.5" y="505.9" font-size="7.6" text-anchor="middle" fill="#262626" stroke="#262626">30</text>
<line x1="466.64" y1="491.7" x2="466.64" y2="495.1" stroke="#1a1a1a" stroke-width="1"/>
<text x="466.64" y="505.9" font-size="7.6" text-anchor="middle" fill="#262626" stroke="#262626">36</text>
<text x="369.4" y="520.3" font-size="9.6" font-weight="bold" fill="#262626" stroke="#262626" textLength="43.7" lengthAdjust="spacingAndGlyphs">Time (months)</text>
<text transform="translate(278.2,460.45) rotate(-90)" x="0" y="0" font-size="8.7" text-anchor="middle" font-weight="bold" fill="#262626" stroke="#262626" textLength="45.9" lengthAdjust="spacingAndGlyphs">PFS probability</text>
<path d="M323.8,432 V443.6 H336 V455 H344.5 V465.8 H350.6 V477.3 H361.8 V488.6" fill="none" stroke="#a8284a" stroke-width="1.5" stroke-linejoin="miter" stroke-linecap="butt"/>
<path d="M316.3,432 H336.9 V437.7 H339 V443 H348.1 V448.7 H395.3 V458.8 H415.5 V469 H448.75 V479 H488" fill="none" stroke="#3fa6d8" stroke-width="1.5" stroke-linejoin="miter" stroke-linecap="butt"/>
<text x="314.2" y="481.4" font-size="7.8" fill="#333" stroke="#333" style="--sw:0.22px" textLength="22.7" lengthAdjust="spacingAndGlyphs"><tspan font-style="italic">P</tspan> = .01</text>
<text x="435" y="435.6" font-size="7.3" fill="#262626" stroke="#262626" textLength="56.9" lengthAdjust="spacingAndGlyphs">Expression Group</text>
<line x1="434.65" y1="444.75" x2="441.9" y2="444.75" stroke="#a8284a" stroke-width="1.8"/>
<text x="445.9" y="447.5" font-size="7.3" fill="#262626" stroke="#262626" textLength="12.75" lengthAdjust="spacingAndGlyphs">Low</text>
<line x1="461.9" y1="444.75" x2="469" y2="444.75" stroke="#3fa6d8" stroke-width="1.8"/>
<text x="473.15" y="447.5" font-size="7.3" fill="#262626" stroke="#262626" textLength="14.65" lengthAdjust="spacingAndGlyphs">High</text>
<text x="307.8" y="529.8" font-size="6.7" fill="#262626" stroke="#262626" textLength="46.1" lengthAdjust="spacingAndGlyphs">Number at risk</text>
<line x1="307.5" y1="535" x2="307.5" y2="558.6" stroke="#1a1a1a" stroke-width="1.2"/>
<line x1="306.9" y1="558" x2="491.9" y2="558" stroke="#1a1a1a" stroke-width="1.3"/>
<line x1="303.9" y1="541.3" x2="307.5" y2="541.3" stroke="#1a1a1a" stroke-width="1"/>
<line x1="303.9" y1="550.6" x2="307.5" y2="550.6" stroke="#1a1a1a" stroke-width="1"/>
<text x="299.3" y="543.65" font-size="6.8" text-anchor="end" fill="#a8465f" stroke="#a8465f" textLength="12.4" lengthAdjust="spacingAndGlyphs" style="--sw:0.1px">Low</text>
<text x="299.3" y="552.75" font-size="6.8" text-anchor="end" fill="#5aa6cc" stroke="#5aa6cc" textLength="13.2" lengthAdjust="spacingAndGlyphs" style="--sw:0.1px">High</text>
<text x="315.8" y="541.4" font-size="6.9" text-anchor="middle" fill="#262626" stroke="#262626">6</text>
<text x="315.8" y="553" font-size="6.9" text-anchor="middle" fill="#262626" stroke="#262626">11</text>
<text x="340.94" y="543.7" font-size="6.9" text-anchor="middle" fill="#262626" stroke="#262626">3</text>
<text x="340.94" y="553" font-size="6.9" text-anchor="middle" fill="#262626" stroke="#262626">8</text>
<text x="366.08" y="543.7" font-size="6.9" text-anchor="middle" fill="#262626" stroke="#262626">0</text>
<text x="366.08" y="553" font-size="6.9" text-anchor="middle" fill="#262626" stroke="#262626">5</text>
<text x="391.22" y="543.7" font-size="6.9" text-anchor="middle" fill="#262626" stroke="#262626">0</text>
<text x="391.22" y="553" font-size="6.9" text-anchor="middle" fill="#262626" stroke="#262626">4</text>
<text x="416.36" y="543.7" font-size="6.9" text-anchor="middle" fill="#262626" stroke="#262626">0</text>
<text x="416.36" y="553" font-size="6.9" text-anchor="middle" fill="#262626" stroke="#262626">2</text>
<text x="441.5" y="543.7" font-size="6.9" text-anchor="middle" fill="#262626" stroke="#262626">0</text>
<text x="441.5" y="553" font-size="6.9" text-anchor="middle" fill="#262626" stroke="#262626">2</text>
<text x="466.64" y="543.7" font-size="6.9" text-anchor="middle" fill="#262626" stroke="#262626">0</text>
<text x="466.64" y="553" font-size="6.9" text-anchor="middle" fill="#262626" stroke="#262626">1</text>
<line x1="315.8" y1="558" x2="315.8" y2="560.8" stroke="#1a1a1a" stroke-width="1"/>
<text x="315.8" y="572.1" font-size="7.6" text-anchor="middle" fill="#262626" stroke="#262626">0</text>
<line x1="340.94" y1="558" x2="340.94" y2="560.8" stroke="#1a1a1a" stroke-width="1"/>
<text x="340.94" y="572.1" font-size="7.6" text-anchor="middle" fill="#262626" stroke="#262626">6</text>
<line x1="366.08" y1="558" x2="366.08" y2="560.8" stroke="#1a1a1a" stroke-width="1"/>
<text x="366.08" y="572.1" font-size="7.6" text-anchor="middle" fill="#262626" stroke="#262626">12</text>
<line x1="391.22" y1="558" x2="391.22" y2="560.8" stroke="#1a1a1a" stroke-width="1"/>
<text x="391.22" y="572.1" font-size="7.6" text-anchor="middle" fill="#262626" stroke="#262626">18</text>
<line x1="416.36" y1="558" x2="416.36" y2="560.8" stroke="#1a1a1a" stroke-width="1"/>
<text x="416.36" y="572.1" font-size="7.6" text-anchor="middle" fill="#262626" stroke="#262626">24</text>
<line x1="441.5" y1="558" x2="441.5" y2="560.8" stroke="#1a1a1a" stroke-width="1"/>
<text x="441.5" y="572.1" font-size="7.6" text-anchor="middle" fill="#262626" stroke="#262626">30</text>
<line x1="466.64" y1="558" x2="466.64" y2="560.8" stroke="#1a1a1a" stroke-width="1"/>
<text x="466.64" y="572.1" font-size="7.6" text-anchor="middle" fill="#262626" stroke="#262626">36</text>
<text x="369.4" y="586.7" font-size="9.6" font-weight="bold" fill="#262626" stroke="#262626" textLength="43.7" lengthAdjust="spacingAndGlyphs">Time (months)</text>
<text transform="translate(267,546.5) rotate(-90)" x="0" y="0" font-size="9.6" text-anchor="middle" font-weight="bold" fill="#262626" stroke="#262626" textLength="32.6" lengthAdjust="spacingAndGlyphs">Expression</text>
<text transform="translate(279.2,546.2) rotate(-90)" x="0" y="0" font-size="9.6" text-anchor="middle" font-weight="bold" fill="#262626" stroke="#262626" textLength="16.9" lengthAdjust="spacingAndGlyphs">group</text>
<text x="8.3" y="619.8" font-size="13.7" font-weight="bold" fill="#000" stroke="#000">D</text>
<text x="106.7" y="628.2" font-size="9.6" fill="#262626" stroke="#262626" textLength="83.7" lengthAdjust="spacingAndGlyphs">PFS Based on MET</text>
<line x1="56.6" y1="635.2" x2="56.6" y2="697.9" stroke="#1a1a1a" stroke-width="1.2"/>
<line x1="56" y1="697.3" x2="241" y2="697.3" stroke="#1a1a1a" stroke-width="1.3"/>
<line x1="53" y1="637.5" x2="56.6" y2="637.5" stroke="#1a1a1a" stroke-width="1"/>
<text x="49.4" y="640.3" font-size="7" text-anchor="end" fill="#262626" stroke="#262626" textLength="14.5" lengthAdjust="spacingAndGlyphs">1.00</text>
<line x1="53" y1="651.73" x2="56.6" y2="651.73" stroke="#1a1a1a" stroke-width="1"/>
<text x="49.4" y="654.52" font-size="7" text-anchor="end" fill="#262626" stroke="#262626" textLength="14.5" lengthAdjust="spacingAndGlyphs">0.75</text>
<line x1="53" y1="665.95" x2="56.6" y2="665.95" stroke="#1a1a1a" stroke-width="1"/>
<text x="49.4" y="668.75" font-size="7" text-anchor="end" fill="#262626" stroke="#262626" textLength="14.5" lengthAdjust="spacingAndGlyphs">0.50</text>
<line x1="53" y1="680.17" x2="56.6" y2="680.17" stroke="#1a1a1a" stroke-width="1"/>
<text x="49.4" y="682.97" font-size="7" text-anchor="end" fill="#262626" stroke="#262626" textLength="14.5" lengthAdjust="spacingAndGlyphs">0.25</text>
<line x1="53" y1="694.4" x2="56.6" y2="694.4" stroke="#1a1a1a" stroke-width="1"/>
<text x="49.4" y="697.2" font-size="7" text-anchor="end" fill="#262626" stroke="#262626" textLength="14.5" lengthAdjust="spacingAndGlyphs">0.00</text>
<line x1="64.9" y1="697.3" x2="64.9" y2="700.7" stroke="#1a1a1a" stroke-width="1"/>
<text x="64.9" y="711.5" font-size="7.6" text-anchor="middle" fill="#262626" stroke="#262626">0</text>
<line x1="90.04" y1="697.3" x2="90.04" y2="700.7" stroke="#1a1a1a" stroke-width="1"/>
<text x="90.04" y="711.5" font-size="7.6" text-anchor="middle" fill="#262626" stroke="#262626">6</text>
<line x1="115.18" y1="697.3" x2="115.18" y2="700.7" stroke="#1a1a1a" stroke-width="1"/>
<text x="115.18" y="711.5" font-size="7.6" text-anchor="middle" fill="#262626" stroke="#262626">12</text>
<line x1="140.32" y1="697.3" x2="140.32" y2="700.7" stroke="#1a1a1a" stroke-width="1"/>
<text x="140.32" y="711.5" font-size="7.6" text-anchor="middle" fill="#262626" stroke="#262626">18</text>
<line x1="165.46" y1="697.3" x2="165.46" y2="700.7" stroke="#1a1a1a" stroke-width="1"/>
<text x="165.46" y="711.5" font-size="7.6" text-anchor="middle" fill="#262626" stroke="#262626">24</text>
<line x1="190.6" y1="697.3" x2="190.6" y2="700.7" stroke="#1a1a1a" stroke-width="1"/>
<text x="190.6" y="711.5" font-size="7.6" text-anchor="middle" fill="#262626" stroke="#262626">30</text>
<line x1="215.74" y1="697.3" x2="215.74" y2="700.7" stroke="#1a1a1a" stroke-width="1"/>
<text x="215.74" y="711.5" font-size="7.6" text-anchor="middle" fill="#262626" stroke="#262626">36</text>
<text x="118.5" y="725.9" font-size="9.6" font-weight="bold" fill="#262626" stroke="#262626" textLength="43.7" lengthAdjust="spacingAndGlyphs">Time (months)</text>
<text transform="translate(27.3,666.05) rotate(-90)" x="0" y="0" font-size="8.7" text-anchor="middle" font-weight="bold" fill="#262626" stroke="#262626" textLength="45.9" lengthAdjust="spacingAndGlyphs">PFS probability</text>
<path d="M72.8,637.2 H88.2 V646.4 H110.8 V658.7 H197.2 V676.3 H237.2" fill="none" stroke="#a8284a" stroke-width="1.5" stroke-linejoin="miter" stroke-linecap="butt"/>
<path d="M65.3,637.2 H72.8 V643.4 H84.6 V649.4 H85.4 V656 H93.3 V662.6 H96.6 V668.6 H99.7 V674.9 H144.6 V685 H164.3 V694.2" fill="none" stroke="#3fa6d8" stroke-width="1.5" stroke-linejoin="miter" stroke-linecap="butt"/>
<text x="60.6" y="691.4" font-size="7.8" fill="#333" stroke="#333" style="--sw:0.22px" textLength="28.3" lengthAdjust="spacingAndGlyphs"><tspan font-style="italic">P</tspan> = .049</text>
<text x="184.1" y="641.2" font-size="7.3" fill="#262626" stroke="#262626" textLength="56.9" lengthAdjust="spacingAndGlyphs">Expression Group</text>
<line x1="183.75" y1="650.35" x2="191" y2="650.35" stroke="#a8284a" stroke-width="1.8"/>
<text x="195" y="653.1" font-size="7.3" fill="#262626" stroke="#262626" textLength="12.75" lengthAdjust="spacingAndGlyphs">Low</text>
<line x1="211" y1="650.35" x2="218.1" y2="650.35" stroke="#3fa6d8" stroke-width="1.8"/>
<text x="222.25" y="653.1" font-size="7.3" fill="#262626" stroke="#262626" textLength="14.65" lengthAdjust="spacingAndGlyphs">High</text>
<text x="56.9" y="735.4" font-size="6.7" fill="#262626" stroke="#262626" textLength="46.1" lengthAdjust="spacingAndGlyphs">Number at risk</text>
<line x1="56.6" y1="740.6" x2="56.6" y2="764.2" stroke="#1a1a1a" stroke-width="1.2"/>
<line x1="56" y1="763.6" x2="241" y2="763.6" stroke="#1a1a1a" stroke-width="1.3"/>
<line x1="53" y1="746.2" x2="56.6" y2="746.2" stroke="#1a1a1a" stroke-width="1"/>
<line x1="53" y1="756.8" x2="56.6" y2="756.8" stroke="#1a1a1a" stroke-width="1"/>
<text x="48.4" y="748.55" font-size="6.8" text-anchor="end" fill="#a8465f" stroke="#a8465f" textLength="12.4" lengthAdjust="spacingAndGlyphs" style="--sw:0.1px">Low</text>
<text x="48.4" y="758.95" font-size="6.8" text-anchor="end" fill="#5aa6cc" stroke="#5aa6cc" textLength="13.2" lengthAdjust="spacingAndGlyphs" style="--sw:0.1px">High</text>
<text x="64.9" y="748.6" font-size="6.9" text-anchor="middle" fill="#262626" stroke="#262626">8</text>
<text x="64.9" y="759.2" font-size="6.9" text-anchor="middle" fill="#262626" stroke="#262626">9</text>
<text x="90.04" y="748.6" font-size="6.9" text-anchor="middle" fill="#262626" stroke="#262626">5</text>
<text x="90.04" y="759.2" font-size="6.9" text-anchor="middle" fill="#262626" stroke="#262626">6</text>
<text x="115.18" y="748.6" font-size="6.9" text-anchor="middle" fill="#262626" stroke="#262626">2</text>
<text x="115.18" y="759.2" font-size="6.9" text-anchor="middle" fill="#262626" stroke="#262626">3</text>
<text x="140.32" y="748.6" font-size="6.9" text-anchor="middle" fill="#262626" stroke="#262626">2</text>
<text x="140.32" y="759.2" font-size="6.9" text-anchor="middle" fill="#262626" stroke="#262626">2</text>
<text x="165.46" y="748.6" font-size="6.9" text-anchor="middle" fill="#262626" stroke="#262626">2</text>
<text x="165.46" y="759.2" font-size="6.9" text-anchor="middle" fill="#262626" stroke="#262626">0</text>
<text x="190.6" y="748.6" font-size="6.9" text-anchor="middle" fill="#262626" stroke="#262626">2</text>
<text x="190.6" y="759.2" font-size="6.9" text-anchor="middle" fill="#262626" stroke="#262626">0</text>
<text x="215.74" y="748.6" font-size="6.9" text-anchor="middle" fill="#262626" stroke="#262626">1</text>
<text x="215.74" y="759.2" font-size="6.9" text-anchor="middle" fill="#262626" stroke="#262626">0</text>
<line x1="64.9" y1="763.6" x2="64.9" y2="766.4" stroke="#1a1a1a" stroke-width="1"/>
<text x="64.9" y="777.7" font-size="7.6" text-anchor="middle" fill="#262626" stroke="#262626">0</text>
<line x1="90.04" y1="763.6" x2="90.04" y2="766.4" stroke="#1a1a1a" stroke-width="1"/>
<text x="90.04" y="777.7" font-size="7.6" text-anchor="middle" fill="#262626" stroke="#262626">6</text>
<line x1="115.18" y1="763.6" x2="115.18" y2="766.4" stroke="#1a1a1a" stroke-width="1"/>
<text x="115.18" y="777.7" font-size="7.6" text-anchor="middle" fill="#262626" stroke="#262626">12</text>
<line x1="140.32" y1="763.6" x2="140.32" y2="766.4" stroke="#1a1a1a" stroke-width="1"/>
<text x="140.32" y="777.7" font-size="7.6" text-anchor="middle" fill="#262626" stroke="#262626">18</text>
<line x1="165.46" y1="763.6" x2="165.46" y2="766.4" stroke="#1a1a1a" stroke-width="1"/>
<text x="165.46" y="777.7" font-size="7.6" text-anchor="middle" fill="#262626" stroke="#262626">24</text>
<line x1="190.6" y1="763.6" x2="190.6" y2="766.4" stroke="#1a1a1a" stroke-width="1"/>
<text x="190.6" y="777.7" font-size="7.6" text-anchor="middle" fill="#262626" stroke="#262626">30</text>
<line x1="215.74" y1="763.6" x2="215.74" y2="766.4" stroke="#1a1a1a" stroke-width="1"/>
<text x="215.74" y="777.7" font-size="7.6" text-anchor="middle" fill="#262626" stroke="#262626">36</text>
<text x="118.5" y="792.3" font-size="9.6" font-weight="bold" fill="#262626" stroke="#262626" textLength="43.7" lengthAdjust="spacingAndGlyphs">Time (months)</text>
<text transform="translate(16.1,752.1) rotate(-90)" x="0" y="0" font-size="9.6" text-anchor="middle" font-weight="bold" fill="#262626" stroke="#262626" textLength="32.6" lengthAdjust="spacingAndGlyphs">Expression</text>
<text transform="translate(28.3,751.8) rotate(-90)" x="0" y="0" font-size="9.6" text-anchor="middle" font-weight="bold" fill="#262626" stroke="#262626" textLength="16.9" lengthAdjust="spacingAndGlyphs">group</text>
<text x="259.2" y="619.8" font-size="13.7" font-weight="bold" fill="#000" stroke="#000">E</text>
<text x="368.3" y="615.8" font-size="9.6" fill="#262626" stroke="#262626" textLength="62.5" lengthAdjust="spacingAndGlyphs">PFS Based on</text>
<text x="329.8" y="628.7" font-size="9.6" fill="#262626" stroke="#262626" textLength="140" lengthAdjust="spacingAndGlyphs">Phospho-p90 RSK (T359/S363)</text>
<line x1="307.5" y1="635.2" x2="307.5" y2="697.9" stroke="#1a1a1a" stroke-width="1.2"/>
<line x1="306.9" y1="697.3" x2="491.9" y2="697.3" stroke="#1a1a1a" stroke-width="1.3"/>
<line x1="303.9" y1="637.5" x2="307.5" y2="637.5" stroke="#1a1a1a" stroke-width="1"/>
<text x="300.3" y="640.3" font-size="7" text-anchor="end" fill="#262626" stroke="#262626" textLength="14.5" lengthAdjust="spacingAndGlyphs">1.00</text>
<line x1="303.9" y1="651.73" x2="307.5" y2="651.73" stroke="#1a1a1a" stroke-width="1"/>
<text x="300.3" y="654.52" font-size="7" text-anchor="end" fill="#262626" stroke="#262626" textLength="14.5" lengthAdjust="spacingAndGlyphs">0.75</text>
<line x1="303.9" y1="665.95" x2="307.5" y2="665.95" stroke="#1a1a1a" stroke-width="1"/>
<text x="300.3" y="668.75" font-size="7" text-anchor="end" fill="#262626" stroke="#262626" textLength="14.5" lengthAdjust="spacingAndGlyphs">0.50</text>
<line x1="303.9" y1="680.17" x2="307.5" y2="680.17" stroke="#1a1a1a" stroke-width="1"/>
<text x="300.3" y="682.97" font-size="7" text-anchor="end" fill="#262626" stroke="#262626" textLength="14.5" lengthAdjust="spacingAndGlyphs">0.25</text>
<line x1="303.9" y1="694.4" x2="307.5" y2="694.4" stroke="#1a1a1a" stroke-width="1"/>
<text x="300.3" y="697.2" font-size="7" text-anchor="end" fill="#262626" stroke="#262626" textLength="14.5" lengthAdjust="spacingAndGlyphs">0.00</text>
<line x1="315.8" y1="697.3" x2="315.8" y2="700.7" stroke="#1a1a1a" stroke-width="1"/>
<text x="315.8" y="711.5" font-size="7.6" text-anchor="middle" fill="#262626" stroke="#262626">0</text>
<line x1="340.94" y1="697.3" x2="340.94" y2="700.7" stroke="#1a1a1a" stroke-width="1"/>
<text x="340.94" y="711.5" font-size="7.6" text-anchor="middle" fill="#262626" stroke="#262626">6</text>
<line x1="366.08" y1="697.3" x2="366.08" y2="700.7" stroke="#1a1a1a" stroke-width="1"/>
<text x="366.08" y="711.5" font-size="7.6" text-anchor="middle" fill="#262626" stroke="#262626">12</text>
<line x1="391.22" y1="697.3" x2="391.22" y2="700.7" stroke="#1a1a1a" stroke-width="1"/>
<text x="391.22" y="711.5" font-size="7.6" text-anchor="middle" fill="#262626" stroke="#262626">18</text>
<line x1="416.36" y1="697.3" x2="416.36" y2="700.7" stroke="#1a1a1a" stroke-width="1"/>
<text x="416.36" y="711.5" font-size="7.6" text-anchor="middle" fill="#262626" stroke="#262626">24</text>
<line x1="441.5" y1="697.3" x2="441.5" y2="700.7" stroke="#1a1a1a" stroke-width="1"/>
<text x="441.5" y="711.5" font-size="7.6" text-anchor="middle" fill="#262626" stroke="#262626">30</text>
<line x1="466.64" y1="697.3" x2="466.64" y2="700.7" stroke="#1a1a1a" stroke-width="1"/>
<text x="466.64" y="711.5" font-size="7.6" text-anchor="middle" fill="#262626" stroke="#262626">36</text>
<text x="369.4" y="725.9" font-size="9.6" font-weight="bold" fill="#262626" stroke="#262626" textLength="43.7" lengthAdjust="spacingAndGlyphs">Time (months)</text>
<text transform="translate(278.2,666.05) rotate(-90)" x="0" y="0" font-size="8.7" text-anchor="middle" font-weight="bold" fill="#262626" stroke="#262626" textLength="45.9" lengthAdjust="spacingAndGlyphs">PFS probability</text>
<path d="M323.9,637.2 H344.3 V644.2 H350.9 V651.4 H395.1 V662 H415.5 V673 H448.75 V683.3 H488" fill="none" stroke="#a8284a" stroke-width="1.5" stroke-linejoin="miter" stroke-linecap="butt"/>
<path d="M316.2,637.2 H323.9 V644.2 H335.5 V652.6 H336.2 V660.6 H339.5 V669 H348 V677.5 H362 V685.9 H364.3" fill="none" stroke="#3fa6d8" stroke-width="1.5" stroke-linejoin="miter" stroke-linecap="butt"/>
<text x="314.6" y="682.6" font-size="7.8" fill="#333" stroke="#333" style="--sw:0.22px" textLength="28.1" lengthAdjust="spacingAndGlyphs"><tspan font-style="italic">P</tspan> = .013</text>
<text x="435" y="641.2" font-size="7.3" fill="#262626" stroke="#262626" textLength="56.9" lengthAdjust="spacingAndGlyphs">Expression Group</text>
<line x1="434.65" y1="650.35" x2="441.9" y2="650.35" stroke="#a8284a" stroke-width="1.8"/>
<text x="445.9" y="653.1" font-size="7.3" fill="#262626" stroke="#262626" textLength="12.75" lengthAdjust="spacingAndGlyphs">Low</text>
<line x1="461.9" y1="650.35" x2="469" y2="650.35" stroke="#3fa6d8" stroke-width="1.8"/>
<text x="473.15" y="653.1" font-size="7.3" fill="#262626" stroke="#262626" textLength="14.65" lengthAdjust="spacingAndGlyphs">High</text>
<text x="307.8" y="735.4" font-size="6.7" fill="#262626" stroke="#262626" textLength="46.1" lengthAdjust="spacingAndGlyphs">Number at risk</text>
<line x1="307.5" y1="740.6" x2="307.5" y2="764.2" stroke="#1a1a1a" stroke-width="1.2"/>
<line x1="306.9" y1="763.6" x2="491.9" y2="763.6" stroke="#1a1a1a" stroke-width="1.3"/>
<line x1="303.9" y1="744.3" x2="307.5" y2="744.3" stroke="#1a1a1a" stroke-width="1"/>
<line x1="303.9" y1="755.9" x2="307.5" y2="755.9" stroke="#1a1a1a" stroke-width="1"/>
<text x="299.3" y="746.65" font-size="6.8" text-anchor="end" fill="#a8465f" stroke="#a8465f" textLength="12.4" lengthAdjust="spacingAndGlyphs" style="--sw:0.1px">Low</text>
<text x="299.3" y="758.05" font-size="6.8" text-anchor="end" fill="#5aa6cc" stroke="#5aa6cc" textLength="13.2" lengthAdjust="spacingAndGlyphs" style="--sw:0.1px">High</text>
<text x="315.8" y="746.7" font-size="6.9" text-anchor="middle" fill="#262626" stroke="#262626">8</text>
<text x="315.8" y="758.3" font-size="6.9" text-anchor="middle" fill="#262626" stroke="#262626">9</text>
<text x="340.94" y="746.7" font-size="6.9" text-anchor="middle" fill="#262626" stroke="#262626">8</text>
<text x="340.94" y="758.3" font-size="6.9" text-anchor="middle" fill="#262626" stroke="#262626">3</text>
<text x="366.08" y="746.7" font-size="6.9" text-anchor="middle" fill="#262626" stroke="#262626">5</text>
<text x="366.08" y="758.3" font-size="6.9" text-anchor="middle" fill="#262626" stroke="#262626">0</text>
<text x="391.22" y="746.7" font-size="6.9" text-anchor="middle" fill="#262626" stroke="#262626">4</text>
<text x="391.22" y="758.3" font-size="6.9" text-anchor="middle" fill="#262626" stroke="#262626">0</text>
<text x="416.36" y="746.7" font-size="6.9" text-anchor="middle" fill="#262626" stroke="#262626">2</text>
<text x="416.36" y="758.3" font-size="6.9" text-anchor="middle" fill="#262626" stroke="#262626">0</text>
<text x="441.5" y="746.7" font-size="6.9" text-anchor="middle" fill="#262626" stroke="#262626">2</text>
<text x="441.5" y="758.3" font-size="6.9" text-anchor="middle" fill="#262626" stroke="#262626">0</text>
<text x="466.64" y="746.7" font-size="6.9" text-anchor="middle" fill="#262626" stroke="#262626">1</text>
<text x="466.64" y="758.3" font-size="6.9" text-anchor="middle" fill="#262626" stroke="#262626">0</text>
<line x1="315.8" y1="763.6" x2="315.8" y2="766.4" stroke="#1a1a1a" stroke-width="1"/>
<text x="315.8" y="777.7" font-size="7.6" text-anchor="middle" fill="#262626" stroke="#262626">0</text>
<line x1="340.94" y1="763.6" x2="340.94" y2="766.4" stroke="#1a1a1a" stroke-width="1"/>
<text x="340.94" y="777.7" font-size="7.6" text-anchor="middle" fill="#262626" stroke="#262626">6</text>
<line x1="366.08" y1="763.6" x2="366.08" y2="766.4" stroke="#1a1a1a" stroke-width="1"/>
<text x="366.08" y="777.7" font-size="7.6" text-anchor="middle" fill="#262626" stroke="#262626">12</text>
<line x1="391.22" y1="763.6" x2="391.22" y2="766.4" stroke="#1a1a1a" stroke-width="1"/>
<text x="391.22" y="777.7" font-size="7.6" text-anchor="middle" fill="#262626" stroke="#262626">18</text>
<line x1="416.36" y1="763.6" x2="416.36" y2="766.4" stroke="#1a1a1a" stroke-width="1"/>
<text x="416.36" y="777.7" font-size="7.6" text-anchor="middle" fill="#262626" stroke="#262626">24</text>
<line x1="441.5" y1="763.6" x2="441.5" y2="766.4" stroke="#1a1a1a" stroke-width="1"/>
<text x="441.5" y="777.7" font-size="7.6" text-anchor="middle" fill="#262626" stroke="#262626">30</text>
<line x1="466.64" y1="763.6" x2="466.64" y2="766.4" stroke="#1a1a1a" stroke-width="1"/>
<text x="466.64" y="777.7" font-size="7.6" text-anchor="middle" fill="#262626" stroke="#262626">36</text>
<text x="369.4" y="792.3" font-size="9.6" font-weight="bold" fill="#262626" stroke="#262626" textLength="43.7" lengthAdjust="spacingAndGlyphs">Time (months)</text>
<text transform="translate(267,752.1) rotate(-90)" x="0" y="0" font-size="9.6" text-anchor="middle" font-weight="bold" fill="#262626" stroke="#262626" textLength="32.6" lengthAdjust="spacingAndGlyphs">Expression</text>
<text transform="translate(279.2,751.8) rotate(-90)" x="0" y="0" font-size="9.6" text-anchor="middle" font-weight="bold" fill="#262626" stroke="#262626" textLength="16.9" lengthAdjust="spacingAndGlyphs">group</text>
<rect x="0.5" y="0.5" width="519" height="802" fill="none" stroke="#363636" stroke-width="1.1"/>
</svg>
</body></html>
